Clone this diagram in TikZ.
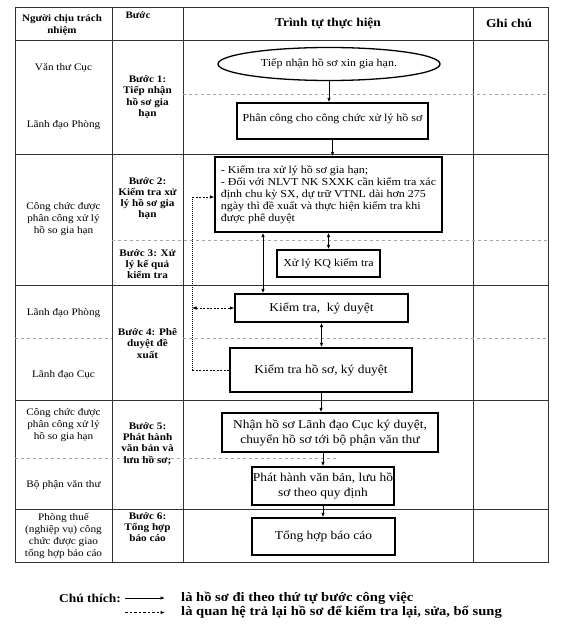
\documentclass[tikz,border=0pt]{standalone}
\usepackage{fontspec}
\setmainfont{Liberation Serif}[FakeStretch=1.12]
\usetikzlibrary{arrows.meta,calc,shapes.geometric}
\begin{document}
\begin{tikzpicture}[x=1pt,y=-1pt,
  tbl/.style={line width=0.9pt, black!80},
  sepline/.style={line width=0.5pt, black!35, dash pattern=on 3pt off 3pt},
  flowbox/.style={draw, line width=1.3pt, inner sep=0pt, align=center, font=\fontsize{10.7}{12}\selectfont},
  flowbig/.style={flowbox, font=\fontsize{12}{15}\selectfont},
  celltxt/.style={inner sep=0pt, align=center, font=\fontsize{10}{12}\selectfont},
  steptxt/.style={inner sep=0pt, align=center, font=\bfseries\fontsize{10}{11.3}\selectfont},
  headtxt/.style={inner sep=0pt, align=center, font=\bfseries\fontsize{12}{14}\selectfont},
  legtxt/.style={inner sep=0pt, anchor=west, font=\bfseries\fontsize{13}{15}\selectfont},
  arr/.style={-{Latex[length=4.5pt,width=3.5pt]}, line width=0.9pt},
  darr/.style={{Latex[length=4.5pt,width=3.5pt]}-{Latex[length=4.5pt,width=3.5pt]}, line width=0.9pt},
  ret/.style={line width=0.8pt, dash pattern=on 2pt off 1.5pt},
  retdot/.style={line width=1pt, dash pattern=on 0.8pt off 1.2pt},
]
\useasboundingbox (0,0) rectangle (563,628);
\fill[white] (0,0) rectangle (563,628);

% table frame
\draw[tbl] (15,7) rectangle (548,562);
\foreach \xx in {112,183,473} \draw[tbl] (\xx,7) -- (\xx,562);
\foreach \yy in {40,154,285,400,509} \draw[tbl] (15,\yy) -- (548,\yy);
% faint sub-row separators
\draw[sepline] (183,94) -- (548,94);
\draw[sepline] (112,240) -- (548,240);
\draw[sepline] (15,338) -- (112,338);
\draw[sepline] (183,338) -- (548,338);
\draw[sepline] (15,458) -- (336,458);

% header
\node[inner sep=0pt, align=center, font=\bfseries\fontsize{9.8}{12}\selectfont] (h1) at (62,25) {Người chịu trách\\nhiệm};
\node[inner sep=0pt, font=\bfseries\fontsize{9.8}{12}\selectfont] (h2) at (138,15) {Bước};
\node[headtxt] (h3) at (328,23) {Trình tự thực hiện};
\node[headtxt] (h4) at (509,23) {Ghi chú};

% responsible column
\node[celltxt] (p1) at (63.5,68) {Văn thư Cục};
\node[celltxt] (p2) at (63.5,125) {Lãnh đạo Phòng};
\node[celltxt] (p3) at (63.5,219.5) {Công chức được\\phân công xử lý\\hồ so gia hạn};
\node[celltxt] (p4) at (63.5,313) {Lãnh đạo Phòng};
\node[celltxt] (p5) at (63.5,375) {Lãnh đạo Cục};
\node[celltxt] (p6) at (63.5,425) {Công chức được\\phân công xử lý\\hồ so gia hạn};
\node[celltxt] (p7) at (63.5,485) {Bộ phận văn thư};
\node[celltxt] (p8) at (63.5,536) {Phòng thuế\\(nghiệp vụ) công\\chức được giao\\tổng hợp báo cáo};

% step column
\node[steptxt] (s1) at (147.5,97) {Bước 1:\\Tiếp nhận\\hồ sơ gia\\hạn};
\node[steptxt] (s2) at (147.5,198.5) {Bước 2:\\Kiểm tra xử\\lý hồ sơ gia\\hạn};
\node[steptxt] (s3) at (147.5,264) {Bước 3: Xử\\lý kế quả\\kiểm tra};
\node[steptxt] (s4) at (147.5,343.5) {Bước 4: Phê\\duyệt đề\\xuất};
\node[steptxt] (s5) at (147.5,443.5) {Bước 5:\\Phát hành\\văn bản và\\lưu hồ sơ;};
\node[steptxt] (s6) at (147.5,527) {Bước 6:\\Tổng hợp\\báo cáo};

% flow nodes
\node[draw, ellipse, line width=1.3pt, minimum width=222pt, minimum height=33pt, inner sep=0pt, font=\fontsize{10.7}{12}\selectfont] (recv) at (329,64) {Tiếp nhận hồ sơ xin gia hạn.};
\node[flowbox, minimum width=191pt, minimum height=36pt, text depth=7pt] (assign) at (332.5,121) {Phân công cho công chức xử lý hồ sơ};
\node[flowbox, minimum width=227pt, minimum height=75pt, align=left] (check) at (328.5,194.5) {- Kiểm tra xử lý hồ sơ gia hạn;\\- Đối với NLVT NK SXXK cần kiểm tra xác\\định chu kỳ SX, dự trữ VTNL dài hơn 275\\ngày thì đề xuất và thực hiện kiểm tra khi\\được phê duyệt};
\node[flowbox, minimum width=103pt, minimum height=27pt] (kq) at (328.5,263.5) {Xử lý KQ kiểm tra};
\node[flowbig, minimum width=173pt, minimum height=28pt] (sign1) at (321.5,308) {Kiểm tra,~~ký duyệt};
\node[flowbig, minimum width=182pt, minimum height=44pt] (sign2) at (321,370) {Kiểm tra hồ sơ, ký duyệt};
\node[flowbig, minimum width=216pt, minimum height=39pt] (fwd) at (330,432.5) {Nhận hồ sơ Lãnh đạo Cục ký duyệt,\\chuyển hồ sơ tới bộ phận văn thư};
\node[flowbig, minimum width=142pt, minimum height=38pt] (issue) at (323,486) {Phát hành văn bản, lưu hồ\\sơ theo quy định};
\node[flowbig, minimum width=143pt, minimum height=37pt] (report) at (323.5,536.5) {Tổng hợp báo cáo};

% forward connectors
\draw[arr] (recv.south) -- (recv.south |- assign.north);
\draw[arr] (assign.south) -- (assign.south |- check.north);
\draw[darr] (check.south -| kq.north) -- (kq.north);
\coordinate (lx) at (263,0);
\draw[darr] (check.south -| lx) -- (sign1.north -| lx);
\draw[darr] (sign1.south) -- (sign1.south |- sign2.north);
\draw[arr] (sign2.south) -- (sign2.south |- fwd.north);
\draw[arr] (issue.north |- fwd.south) -- (issue.north);
\draw[arr] (issue.south) -- (issue.south |- report.north);

% return connectors
\coordinate (rtop) at (192,197);
\draw[ret] (sign2.west) -- (sign2.west -| rtop);
\draw[retdot] (rtop) -- (sign2.west -| rtop);
\draw[ret, -{Latex[length=4.5pt,width=3.5pt]}] (rtop) -- (rtop -| check.west);
\draw[ret, {Latex[length=4.5pt,width=3.5pt]}-{Latex[length=4.5pt,width=3.5pt]}] (rtop |- sign1.west) -- (sign1.west);

% legend
\node[inner sep=0pt, anchor=east, font=\bfseries\fontsize{12}{13}\selectfont] (leg) at (121,598) {Chú thích:};
\node[legtxt] (l1) at (181,598) {là hồ sơ đi theo thứ tự bước công việc};
\node[legtxt] (l2) at (181,612.5) {là quan hệ trả lại hồ sơ để kiểm tra lại, sửa, bổ sung};
\coordinate (a1) at (125,598);
\coordinate (a2) at (125,612.5);
\draw[arr] (a1) -- (a1 -| 165,0);
\draw[ret, dash pattern=on 2.5pt off 2pt, -{Latex[length=4.5pt,width=3.5pt]}] (a2) -- (a2 -| 165,0);
\end{tikzpicture}
\end{document}
